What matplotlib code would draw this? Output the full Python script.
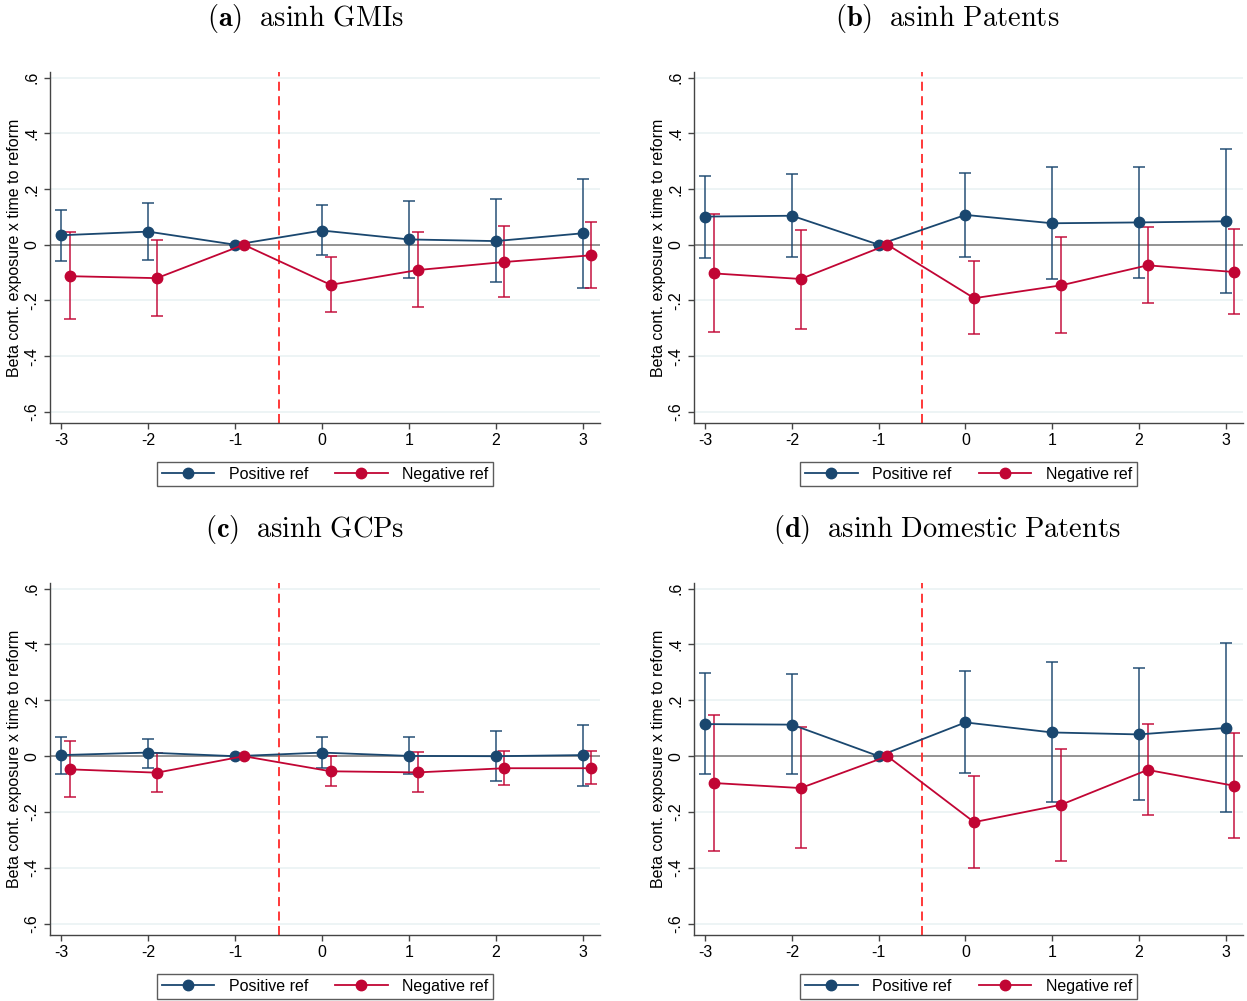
import numpy as np
import matplotlib
matplotlib.use("Agg")
import matplotlib.pyplot as plt

plt.rcParams['font.family'] = ['Liberation Sans', 'DejaVu Sans']
plt.rcParams['mathtext.fontset'] = 'cm'

years = [-3, -2, -1, 0, 1, 2, 3]
ytick_vals = [-0.6, -0.4, -0.2, 0, 0.2, 0.4, 0.6]
ytick_labels = ['-.6', '-.4', '-.2', '0', '.2', '.4', '.6']

titles = [r'$\mathbf{(a)}\ \ \mathrm{asinh\ GMIs}$',
          r'$\mathbf{(b)}\ \ \mathrm{asinh\ Patents}$',
          r'$\mathbf{(c)}\ \ \mathrm{asinh\ GCPs}$',
          r'$\mathbf{(d)}\ \ \mathrm{asinh\ Domestic\ Patents}$']

# (a) GMIs
gmi_pos = [0.034, 0.047, 0, 0.051, 0.019, 0.013, 0.041]
gmi_pos_hi = [0.126, 0.148, 0, 0.141, 0.158, 0.163, 0.237]
gmi_pos_lo = [-0.059, -0.055, 0, -0.036, -0.119, -0.135, -0.154]
gmi_neg = [-0.113, -0.120, 0, -0.144, -0.091, -0.062, -0.038]
gmi_neg_hi = [0.047, 0.017, 0, -0.044, 0.044, 0.066, 0.081]
gmi_neg_lo = [-0.268, -0.255, 0, -0.242, -0.225, -0.188, -0.156]

# (b) Patents
pat_pos = [0.101, 0.104, 0, 0.107, 0.077, 0.080, 0.084]
pat_pos_hi = [0.248, 0.254, 0, 0.257, 0.278, 0.280, 0.344]
pat_pos_lo = [-0.047, -0.044, 0, -0.044, -0.123, -0.120, -0.174]
pat_neg = [-0.103, -0.123, 0, -0.192, -0.146, -0.074, -0.098]
pat_neg_hi = [0.111, 0.054, 0, -0.059, 0.026, 0.065, 0.055]
pat_neg_lo = [-0.315, -0.301, 0, -0.322, -0.316, -0.210, -0.250]

# (c) GCPs
gcp_pos = [0.004, 0.013, 0, 0.013, 0.001, 0.0, 0.004]
gcp_pos_hi = [0.068, 0.062, 0, 0.068, 0.070, 0.089, 0.113]
gcp_pos_lo = [-0.062, -0.041, 0, -0.043, -0.065, -0.089, -0.106]
gcp_neg = [-0.047, -0.059, 0, -0.054, -0.058, -0.043, -0.043]
gcp_neg_hi = [0.053, 0.013, 0, 0.001, 0.016, 0.018, 0.018]
gcp_neg_lo = [-0.146, -0.128, 0, -0.108, -0.127, -0.103, -0.100]

# (d) Domestic patents
dom_pos = [0.115, 0.113, 0, 0.121, 0.085, 0.078, 0.101]
dom_pos_hi = [0.297, 0.293, 0, 0.304, 0.336, 0.315, 0.405]
dom_pos_lo = [-0.065, -0.064, 0, -0.060, -0.164, -0.156, -0.200]
dom_neg = [-0.096, -0.114, 0, -0.236, -0.174, -0.049, -0.106]
dom_neg_hi = [0.148, 0.106, 0, -0.071, 0.026, 0.115, 0.084]
dom_neg_lo = [-0.339, -0.330, 0, -0.401, -0.375, -0.211, -0.293]

panels = [
    (gmi_pos, gmi_pos_lo, gmi_pos_hi, gmi_neg, gmi_neg_lo, gmi_neg_hi),
    (pat_pos, pat_pos_lo, pat_pos_hi, pat_neg, pat_neg_lo, pat_neg_hi),
    (gcp_pos, gcp_pos_lo, gcp_pos_hi, gcp_neg, gcp_neg_lo, gcp_neg_hi),
    (dom_pos, dom_pos_lo, dom_pos_hi, dom_neg, dom_neg_lo, dom_neg_hi),
]

blue = '#1a476f'
red = '#c10534'

W, H = 1247, 1001
fig = plt.figure(figsize=(W / 100, H / 100), dpi=100)

# pixel boxes: left, right, top, bottom, title centre x, title centre y
boxes = [(50, 600, 72, 423, 305, 18), (694, 1243, 72, 423, 947, 18),
         (50, 600, 583, 935, 305, 529), (694, 1243, 583, 935, 947, 529)]

for i, (box, data) in enumerate(zip(boxes, panels)):
    l, r, t, b, tx, ty = box
    ax = fig.add_axes([l / W, 1 - b / H, (r - l) / W, (b - t) / H])
    pos, pos_lo, pos_hi, neg, neg_lo, neg_hi = [np.array(d) for d in data]
    x = np.array(years, dtype=float)
    xn = x + 0.1

    for yv in [-0.6, -0.4, -0.2, 0.2, 0.4, 0.6]:
        ax.axhline(yv, color='#eaf2f3', lw=1.2, zorder=0)
    ax.axhline(0, color='#808080', lw=1.2, zorder=1)
    ax.axvline(-0.5, color='#ff2a2a', lw=1.3, ls=(0, (5, 3)), zorder=1)

    ax.errorbar(x, pos, yerr=[pos - pos_lo, pos_hi - pos], fmt='none',
                ecolor=blue, elinewidth=1.3, capsize=4, capthick=1.3, alpha=0.8, zorder=2)
    ax.errorbar(xn, neg, yerr=[neg - neg_lo, neg_hi - neg], fmt='none',
                ecolor=red, elinewidth=1.3, capsize=4, capthick=1.3, alpha=0.8, zorder=2)
    ax.plot(x, pos, '-o', color=blue, lw=1.3, ms=7.5, label='Positive ref', zorder=3)
    ax.plot(xn, neg, '-o', color=red, lw=1.3, ms=7.5, label='Negative ref', zorder=3)

    ax.set_xlim(-3.13, 3.2)
    ax.set_ylim(-0.64, 0.62)
    ax.set_xticks(years)
    ax.set_xticklabels([str(v) for v in years], fontsize=11.5)
    ax.set_yticks(ytick_vals)
    ax.set_yticklabels(ytick_labels, fontsize=11.5, rotation=90, va='center')
    ax.tick_params(direction='out', length=4, width=1, color='#444444')
    for s in ['top', 'right']:
        ax.spines[s].set_visible(False)
    for s in ['left', 'bottom']:
        ax.spines[s].set_color('#444444')
        ax.spines[s].set_linewidth(1.0)
    ax.set_ylabel('Beta cont. exposure x time to reform', fontsize=11.5, labelpad=2)
    fig.text(tx / W, 1 - ty / H, titles[i], fontsize=20.5, ha='center', va='center')

    ax.legend(loc='upper center', bbox_to_anchor=(0.5, -0.088), ncol=2,
              fontsize=11.5, frameon=True, fancybox=False, edgecolor='#333333',
              handlelength=3.3, handletextpad=0.9, columnspacing=1.7, borderpad=0.3)

fig.savefig('out.png', dpi=100, facecolor='white')
